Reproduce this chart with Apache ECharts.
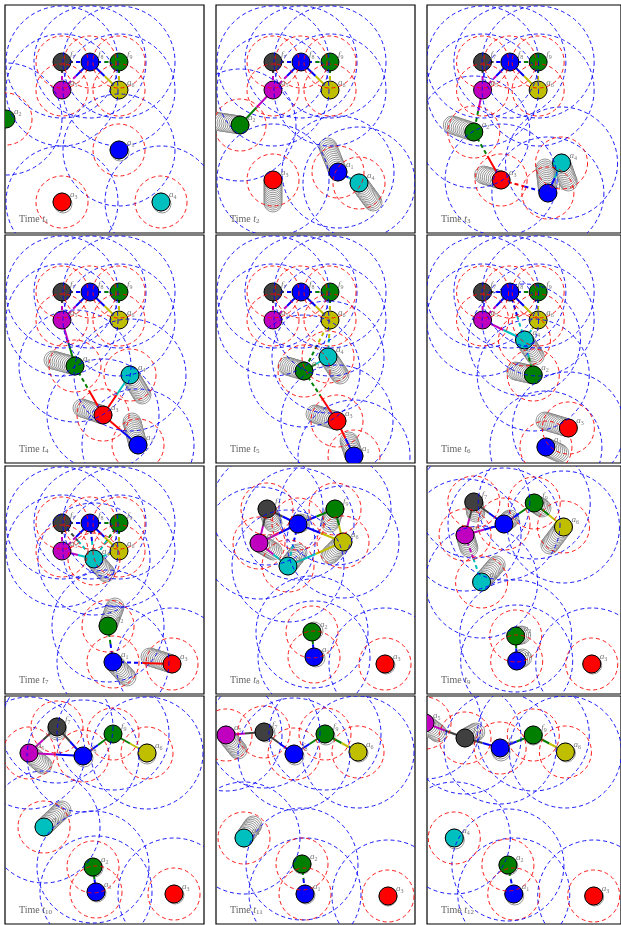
<!DOCTYPE html>
<html>
<head>
<meta charset="utf-8">
<script src="https://cdn.jsdelivr.net/npm/echarts@6/dist/echarts.min.js"></script>
<style>
  html, body { margin: 0; padding: 0; background: #fff; }
  #main { width: 621px; height: 925px; }
</style>
</head>
<body>
<div id="main"></div>
<script>
// node order used by every array below
const names = ['a1', 'a2', 'a3', 'a4', 'a5', 'a6', 'f7', 'f8', 'f9'];
const timeLabels = ['1', '2', '3', '4', '5', '6', '7', '8', '9', '10', '11', '12'];

// positions (x, y) at each time step
const pos1 = [[114,145],[1,114],[57,197],[156,197],[57,85],[114,85],[57,57],[85,57],[114,57]];
const pos2 = [[122,167],[24,120],[57,175],[143,178],[57,85],[114,85],[57,57],[85,57],[114,57]];
const pos3 = [[124,188],[48,127],[76,175],[138,158],[57,85],[114,85],[57,57],[85,57],[114,57]];
const pos4 = [[133,210],[70,131],[98,180],[125,140],[57,85],[114,85],[57,57],[85,57],[114,57]];
const pos5 = [[138,221],[88,136],[121,186],[112,122],[57,85],[114,85],[57,57],[85,57],[114,57]];
const pos6 = [[122,212],[109,140],[145,193],[100,105],[57,85],[114,85],[57,57],[85,57],[114,57]];
const pos7 = [[108,196],[103,160],[167,198],[89,93],[57,85],[114,85],[57,57],[85,57],[114,57]];
const pos8 = [[98,191],[96,166],[169,198],[72,100],[43,77],[127,76],[51,43],[82,58],[119,43]];
const pos9 = [[92,195],[91,170],[169,198],[56,116],[39,69],[140,61],[48,36],[79,58],[110,37]];
const pos10 = [[91,196],[88,171],[169,198],[39,131],[24,57],[142,57],[52,31],[78,60],[108,38]];
const pos11 = [[89,198],[86,168],[172,200],[28,142],[10,39],[142,56],[48,36],[78,58],[109,38]];
const pos12 = [[89,198],[83,169],[171,200],[28,142],[-2,27],[142,56],[39,42],[75,52],[109,39]];

// where each node's trail starts (null = no trail)
const tail1 = [[115,147],null,[58,199],[157,199],null,null,null,null,null];
const tail2 = [[112,142],[-2,116],[57,198],[157,197],null,null,null,null,null];
const tail3 = [[121,163],[26,120],[58,170],[145,177],null,null,null,null,null];
const tail4 = [[127,187],[48,125],[77,173],[137,160],null,null,null,null,null];
const tail5 = [[133,206],[71,131],[99,179],[124,140],null,null,null,null,null];
const tail6 = [[136,218],[91,136],[121,186],[111,121],null,null,null,null,null];
const tail7 = [[122,211],[110,141],[145,191],[101,107],null,null,null,null,null];
const tail8 = [[100,192],[98,165],[170,199],[82,87],[57,85],[114,89],[57,57],[85,57],[114,57]];
const tail9 = [[98,192],[97,169],[170,199],[71,99],[43,82],[126,79],[50,47],[85,53],[118,42]];
const tail10 = [[92,197],[89,172],[170,199],[57,114],[38,69],[142,59],[52,35],[79,62],null];
const tail11 = [[90,199],[86,169],[172,201],[37,129],[22,54],[143,57],[50,37],[79,60],[110,40]];
const tail12 = [[90,200],[84,170],[172,201],[29,144],[11,37],[143,57],[50,36],[76,56],[109,40]];

// links: from, to, line type of each half (s = solid, d = dashed)
const formationLinks = [['f7','f8','dd'],['f8','f9','dd'],['f7','a5','dd'],['f8','a5','sd'],['f8','a6','ss'],['f9','a6','dd']];
const links1 = formationLinks;
const links2 = formationLinks.concat([['a5','a2','ss'],['a1','a4','ss']]);
const links3 = formationLinks.concat([['a5','a2','sd'],['a2','a3','ds'],['a3','a1','dd'],['a1','a4','ss']]);
const links4 = formationLinks.concat([['a5','a2','ss'],['a2','a3','ds'],['a4','a3','ss'],['a3','a1','ss']]);
const links5 = formationLinks.concat([['a6','a4','dd'],['a6','a2','dd'],['a4','a2','ss'],['a2','a3','ds'],['a3','a1','ss']]);
const links6 = formationLinks.concat([['a5','a4','ss'],['f8','a4','dd'],['a6','a4','dd'],['a4','a2','dd']]);
const links7 = formationLinks.concat([['f7','a4','dd'],['f8','a4','dd'],['f9','a4','dd'],['a5','a4','ss'],['a6','a4','dd'],['a2','a1','dd'],['a1','a3','ds']]);
const links8 = [['f8','f7','ss'],['f8','f9','ss'],['f8','a5','ss'],['f8','a6','ss'],['f8','a4','dd'],['f9','a6','ss'],['a5','f7','ss'],['a5','a4','ss'],['a6','a4','ss'],['a2','a1','ss']];
const links9 = [['f7','f8','ss'],['f8','f9','ss'],['f9','a6','ss'],['a5','f8','ss'],['a5','f7','ss'],['a5','a4','dd'],['a2','a1','ss']];
const links10 = [['f7','a5','ss'],['f7','f8','ss'],['a5','f8','ss'],['f8','f9','ss'],['f9','a6','ss'],['a2','a1','ss']];
const links11 = [['a5','f7','ss'],['f7','f8','ss'],['f8','f9','ss'],['f9','a6','ss'],['a2','a1','dd']];
const links12 = links11;

const allPos = [pos1, pos2, pos3, pos4, pos5, pos6, pos7, pos8, pos9, pos10, pos11, pos12];
const allTails = [tail1, tail2, tail3, tail4, tail5, tail6, tail7, tail8, tail9, tail10, tail11, tail12];
const allLinks = [links1, links2, links3, links4, links5, links6, links7, links8, links9, links10, links11, links12];

// ---------------------------------------------------------------------------
const nodeColors = ['#0000ff', '#007f00', '#ff0000', '#00bfbf', '#bf00bf', '#bfbf00', '#404040', '#0000ff', '#007f00'];
const nodeR = 9;
const sensR = 26;
const commR = 56;
const ringGap = 2;
const dash = [4, 3];
const serif = 'Liberation Serif';

const colLeft = [5, 216, 427];
const rowTop = [5, 235, 466, 696];
const panelW = 199;
const panelH = 228;

function renderTrail(params, api) {
  const head = api.coord([api.value(0), api.value(1)]);
  const tail = api.coord([api.value(2), api.value(3)]);
  const dx = head[0] - tail[0], dy = head[1] - tail[1];
  const n = Math.max(1, Math.round(Math.hypot(dx, dy) / ringGap));
  const children = [];
  for (let k = 0; k <= n; k++) {
    children.push({
      type: 'circle',
      shape: {cx: tail[0] + dx * k / n, cy: tail[1] + dy * k / n, r: nodeR},
      style: {fill: '#fff', stroke: '#7a7a7a', lineWidth: 0.8}
    });
  }
  return {type: 'group', children: children};
}

function renderLink(params, api) {
  const p1 = api.coord([api.value(0), api.value(1)]);
  const p2 = api.coord([api.value(2), api.value(3)]);
  const mid = [(p1[0] + p2[0]) / 2, (p1[1] + p2[1]) / 2];
  const c1 = nodeColors[api.value(4)], c2 = nodeColors[api.value(5)];
  const d1 = api.value(6) === 1, d2 = api.value(7) === 1;
  return {
    type: 'group',
    children: [
      {type: 'line', shape: {x1: p1[0], y1: p1[1], x2: mid[0], y2: mid[1]},
       style: {stroke: c1, lineWidth: 2, lineDash: d1 ? dash : null}},
      {type: 'line', shape: {x1: mid[0], y1: mid[1], x2: p2[0], y2: p2[1]},
       style: {stroke: c2, lineWidth: 2, lineDash: d2 ? dash : null}}
    ]
  };
}

function renderNode(params, api) {
  const p = api.coord([api.value(0), api.value(1)]);
  return {
    type: 'circle',
    shape: {cx: p[0], cy: p[1], r: nodeR},
    style: {fill: nodeColors[api.value(2)], stroke: '#000', lineWidth: 1}
  };
}

function renderRange(params, api) {
  const p = api.coord([api.value(0), api.value(1)]);
  return {
    type: 'group',
    children: [
      {type: 'circle', shape: {cx: p[0], cy: p[1], r: commR},
       style: {fill: null, stroke: '#0000ff', lineWidth: 0.9, lineDash: dash}},
      {type: 'circle', shape: {cx: p[0], cy: p[1], r: sensR},
       style: {fill: null, stroke: '#ff0000', lineWidth: 0.9, lineDash: dash}}
    ]
  };
}

function renderName(params, api) {
  const p = api.coord([api.value(0), api.value(1)]);
  const nm = names[api.value(2)];
  return {
    type: 'text',
    x: p[0] + 8, y: p[1] - 7,
    style: {
      text: '{i|' + nm[0] + '}{s|' + nm.slice(1) + '}',
      verticalAlign: 'middle',
      rich: {
        i: {fontFamily: serif, fontStyle: 'italic', fontSize: 9, fill: '#777'},
        s: {fontFamily: serif, fontSize: 6, fill: '#777', padding: [4, 0, 0, 0]}
      }
    }
  };
}

const grids = [], xAxes = [], yAxes = [], series = [];

allPos.forEach(function (pos, t) {
  const col = t % 3, row = Math.floor(t / 3);
  grids.push({left: colLeft[col], top: rowTop[row], width: panelW, height: panelH,
              show: true, borderColor: '#000', borderWidth: 1.2, backgroundColor: '#fff'});
  xAxes.push({type: 'value', gridIndex: t, min: 0, max: panelW, show: false});
  yAxes.push({type: 'value', gridIndex: t, min: 0, max: panelH, inverse: true, show: false});

  const tails = allTails[t];
  const trailData = [];
  pos.forEach(function (p, i) {
    if (tails[i]) trailData.push([p[0], p[1], tails[i][0], tails[i][1], i]);
  });
  const linkData = allLinks[t].map(function (l) {
    const a = names.indexOf(l[0]), b = names.indexOf(l[1]);
    return [pos[a][0], pos[a][1], pos[b][0], pos[b][1], a, b,
            l[2][0] === 'd' ? 1 : 0, l[2][1] === 'd' ? 1 : 0];
  });
  const nodeData = pos.map(function (p, i) { return [p[0], p[1], i]; });

  const common = {type: 'custom', xAxisIndex: t, yAxisIndex: t, clip: true, silent: true, animation: false};
  series.push(Object.assign({}, common, {renderItem: renderTrail, data: trailData}));
  series.push(Object.assign({}, common, {renderItem: renderLink, data: linkData}));
  series.push(Object.assign({}, common, {renderItem: renderNode, data: nodeData}));
  series.push(Object.assign({}, common, {renderItem: renderRange, data: nodeData}));
  series.push(Object.assign({}, common, {renderItem: renderName, data: nodeData}));
});

// "Time t_k" captions
const graphics = timeLabels.map(function (k, t) {
  const col = t % 3, row = Math.floor(t / 3);
  return {
    type: 'text',
    left: colLeft[col] + 14,
    top: rowTop[row] + panelH - 19,
    z: 100,
    style: {
      text: '{n|Time }{i|t}{s|' + k + '}',
      rich: {
        n: {fontFamily: serif, fontSize: 10, fill: '#666'},
        i: {fontFamily: serif, fontStyle: 'italic', fontSize: 10, fill: '#666'},
        s: {fontFamily: serif, fontSize: 7, fill: '#666', padding: [4, 0, 0, 0]}
      }
    }
  };
});

const chart = echarts.init(document.getElementById('main'), null, {renderer: 'canvas'});
chart.setOption({
  animation: false,
  backgroundColor: '#fff',
  grid: grids,
  xAxis: xAxes,
  yAxis: yAxes,
  series: series,
  graphic: graphics
});
</script>
</body>
</html>
